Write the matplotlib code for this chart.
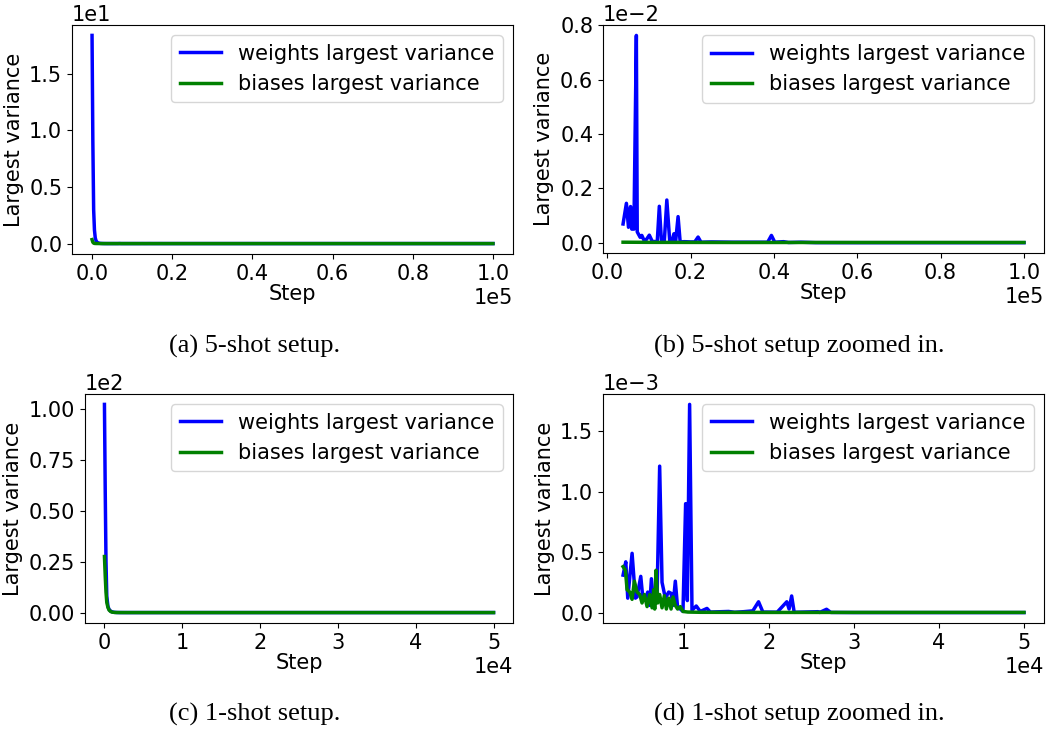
import matplotlib.pyplot as plt

# ---- 5-shot setup: largest variance per step ----
w5_steps = [0, 200, 400, 600, 800, 1000, 1300, 1600, 2000, 2500, 3000, 3500,
            3800, 4600, 5100, 5600, 5900, 6100, 6400, 6990, 7200, 7900, 8300,
            8800, 9400, 10100, 10800, 12000, 12500, 13000, 13700, 14300, 15000,
            15500, 16000, 16400, 17000, 17500, 18500, 20000, 21000, 21800,
            22500, 25000, 30000, 35000, 38500, 39400, 40200, 42300, 43500,
            46500, 50000, 60000, 70000, 80000, 90000, 100000]
w5_vals = [18.37, 9.0, 3.0, 1.2, 0.5, 0.25, 0.1, 0.05, 0.02, 0.008, 0.003, 0.0012,
           6.9e-4, 1.45e-3, 5.7e-4, 1.33e-3, 5.0e-4, 1.18e-3, 5.0e-4, 7.62e-3,
           4.0e-4, 2.0e-4, 2.7e-4, 1.0e-4, 1.2e-4, 2.8e-4, 5e-5, 4e-5, 1.34e-3,
           1.0e-4, 6e-5, 1.57e-3, 5e-5, 4e-5, 3.3e-4, 3e-5, 9.6e-4, 3e-5, 4e-5,
           3e-5, 3e-5, 2.1e-4, 2e-5, 3e-5, 2e-5, 2e-5, 2e-5, 2.7e-4, 2e-5, 4e-5,
           1e-5, 2e-5, 5e-6, 3e-6, 3e-6, 3e-6, 3e-6, 3e-6]
b5_steps = [0, 200, 400, 600, 1000, 2000, 3800, 10000, 30000, 60000, 100000]
b5_vals = [0.35, 0.12, 0.04, 0.015, 0.005, 0.001, 2e-5, 1.5e-5, 1e-5, 1e-5, 1e-5]
zoom5_start = 3800

# ---- 1-shot setup ----
w1_steps = [0, 100, 200, 300, 450, 600, 800, 1000, 1300, 1600, 2000, 2400,
            2890, 3210, 3440, 3950, 4340, 4530, 4970, 5240, 5510, 5790, 6020,
            6220, 6490, 6880, 7190, 7470, 7860, 8250, 8530, 8760, 9030, 9300,
            9620, 9930, 10240, 10440, 10710, 10990, 11490, 11960, 12750, 13140,
            15290, 16000, 17050, 18140, 18810, 19320, 21000, 22130, 22400,
            22700, 23000, 25800, 26000, 26800, 27300, 30000, 40000, 50000]
w1_vals = [102.5, 60, 25, 8, 3, 1.5, 0.7, 0.3, 0.1, 0.04, 0.01, 0.003,
           3.1e-4, 4.2e-4, 1.2e-4, 4.9e-4, 1.2e-4, 1.3e-4, 3.0e-4, 1.0e-4,
           1.1e-4, 1.7e-4, 6e-5, 2.8e-4, 6e-5, 1.2e-4, 1.21e-3, 2.5e-4, 1.2e-4,
           1.7e-4, 1.6e-4, 6e-5, 2.6e-4, 4e-5, 3e-5, 1e-5, 9.0e-4, 1.0e-4,
           1.72e-3, 2e-5, 5.5e-5, 1e-5, 3.5e-5, 5e-6, 1e-5, 3e-6, 8e-6, 1.5e-5,
           9e-5, 5e-6, 4e-6, 9e-5, 3e-5, 1.38e-4, 3e-6, 8e-6, 2e-6, 2.8e-5,
           2e-6, 1e-6, 8e-7, 8e-7]
b1_steps = [0, 100, 200, 300, 450, 600, 800, 1000, 1300, 1600, 2000, 2400,
            2890, 3170, 3360, 3680, 3950, 4220, 4530, 4850, 5120, 5400, 5710,
            6020, 6300, 6490, 6610, 6760, 6960, 7190, 7470, 7740, 7980, 8250,
            8530, 8760, 9030, 9300, 9620, 9930, 10500, 12000, 20000, 30000, 50000]
b1_vals = [27.6, 18, 10, 5, 2.5, 1.2, 0.5, 0.2, 0.07, 0.02, 0.005, 0.001,
           3.8e-4, 3.5e-4, 1.9e-4, 1.7e-4, 1.1e-4, 2.6e-4, 1.7e-4, 1.5e-4,
           8e-5, 1.5e-4, 5e-5, 1.5e-4, 4e-5, 1.9e-4, 3e-5, 3.5e-4, 8e-5,
           1.5e-4, 4e-5, 1.4e-4, 3e-5, 1.2e-4, 3e-5, 1.3e-4, 6e-5, 3e-5,
           5e-5, 1e-5, 5e-6, 3e-6, 2e-6, 2e-6, 2e-6]
zoom1_start = 2890

captions = ["(a) 5-shot setup.", "(b) 5-shot setup zoomed in.",
            "(c) 1-shot setup.", "(d) 1-shot setup zoomed in."]
# exponent shown above each y axis
y_orders = [1, -2, 2, -3]

plt.rcParams["font.size"] = 15


def after(steps, vals, start):
    pairs = [(s, v) for s, v in zip(steps, vals) if s >= start]
    return [p[0] for p in pairs], [p[1] for p in pairs]


fig = plt.figure(figsize=(10.48, 7.33), dpi=100)
rects = [[0.0687, 0.6535, 0.4208, 0.3124],
         [0.5754, 0.6548, 0.4208, 0.3110],
         [0.0811, 0.1501, 0.4084, 0.3124],
         [0.5754, 0.1501, 0.4208, 0.3124]]

panels = [
    (w5_steps, w5_vals, b5_steps, b5_vals),
    (*after(w5_steps, w5_vals, zoom5_start), *after(b5_steps, b5_vals, zoom5_start)),
    (w1_steps, w1_vals, b1_steps, b1_vals),
    (*after(w1_steps, w1_vals, zoom1_start), *after(b1_steps, b1_vals, zoom1_start)),
]

for rect, order, (ws, wv, bs, bv) in zip(rects, y_orders, panels):
    ax = fig.add_axes(rect)
    ax.plot(ws, wv, color="blue", lw=2.5, label="weights largest variance")
    ax.plot(bs, bv, color="green", lw=2.5, label="biases largest variance")
    ax.ticklabel_format(style="sci", axis="x", scilimits=(0, 0))
    ax.ticklabel_format(style="sci", axis="y", scilimits=(order, order))
    ax.set_xlabel("Step", labelpad=0)
    ax.set_ylabel("Largest variance")
    ax.legend(loc="upper right")

cap_pos = [(0.243, 0.527), (0.763, 0.527), (0.243, 0.025), (0.763, 0.025)]
for (x, y), txt in zip(cap_pos, captions):
    fig.text(x, y, txt, ha="center", va="center", family="Liberation Serif",
             fontsize=19)

fig.savefig("out.png", dpi=100)
